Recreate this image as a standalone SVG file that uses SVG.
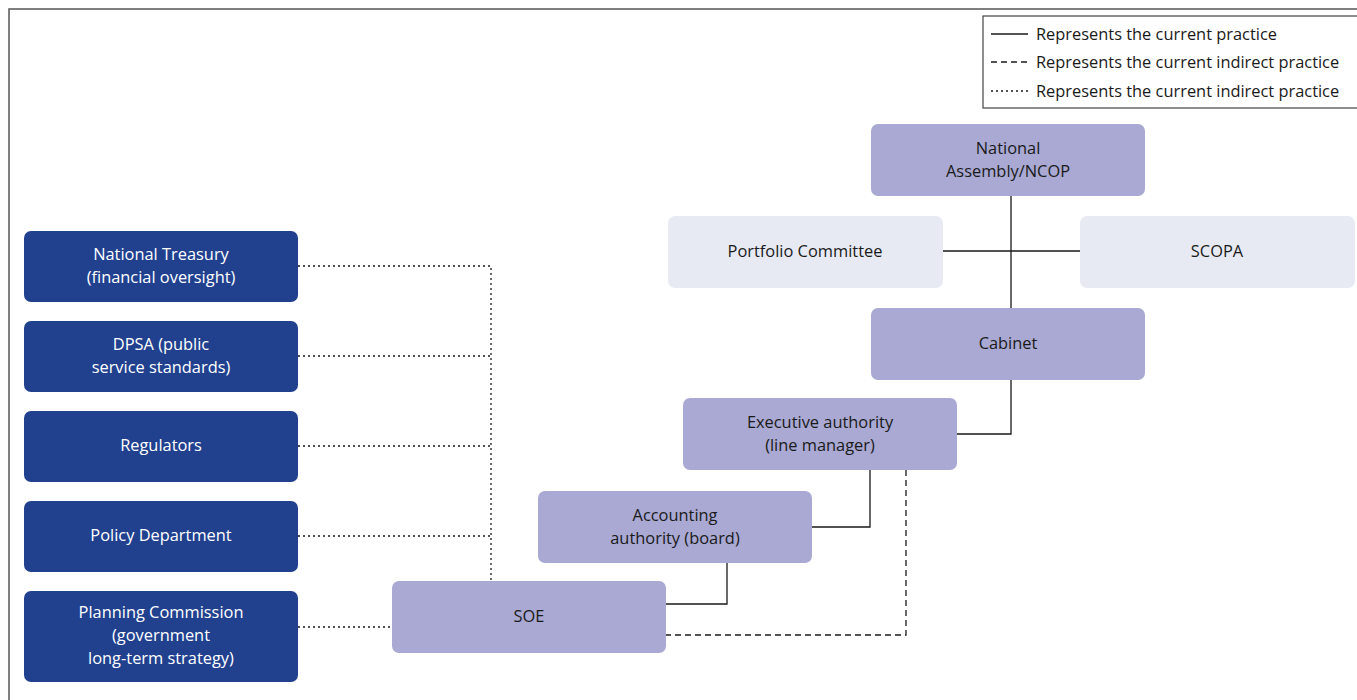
<svg xmlns="http://www.w3.org/2000/svg" width="1357" height="700" viewBox="0 0 1357 700">
<style>
text{font-family:"Open Sans","Noto Sans","Liberation Sans",sans-serif;font-size:16.4px;text-anchor:middle}
.dk rect{fill:#21418f}
.dk text{fill:#ffffff}
.pu rect{fill:#a9a9d3}
.lt rect{fill:#e8eaf3}
.pu text,.lt text,.lg text{fill:#1a1a1a}
.c{fill:none;stroke:#1a1a1a;stroke-width:1.3}
.dash{stroke-dasharray:6 4}
.dot{stroke-dasharray:2 3}
</style>
<rect width="1357" height="700" fill="#fff"/>
<rect x="9" y="9" width="1360" height="700" fill="none" stroke="#555" stroke-width="1.5"/>
<g id="legend" class="lg">
<rect x="983" y="16" width="380" height="92" fill="#fff" stroke="#444" stroke-width="1.2"/>
<line class="c" x1="991" y1="34" x2="1028" y2="34"/>
<line class="c dash" x1="991" y1="62" x2="1028" y2="62"/>
<line class="c dot" x1="991" y1="91" x2="1028" y2="91"/>
<text x="1036" y="40" style="text-anchor:start">Represents the current practice</text>
<text x="1036" y="68" style="text-anchor:start">Represents the current indirect practice</text>
<text x="1036" y="97" style="text-anchor:start">Represents the current indirect practice</text>
</g>
<g id="connectors">
<path class="c" d="M1011 196V308M943 251H1080"/>
<path class="c" d="M1011 380V434H957"/>
<path class="c" d="M870 470V527H812"/>
<path class="c" d="M727 563V604H666"/>
<path class="c dash" d="M906 470V635H666"/>
<path class="c dot" d="M298 266H491V581M298 356H491M298 446H491M298 536H491M298 627H392"/>
</g>
<g id="na" class="pu"><rect x="871" y="124" width="274" height="72" rx="7"/><text x="1008" y="154">National</text><text x="1008" y="177">Assembly/NCOP</text></g>
<g id="pc" class="lt"><rect x="668" y="216" width="275" height="72" rx="7"/><text x="805" y="257">Portfolio Committee</text></g>
<g id="scopa" class="lt"><rect x="1080" y="216" width="275" height="72" rx="7"/><text x="1217" y="257">SCOPA</text></g>
<g id="cabinet" class="pu"><rect x="871" y="308" width="274" height="72" rx="7"/><text x="1008" y="349">Cabinet</text></g>
<g id="exec" class="pu"><rect x="683" y="398" width="274" height="72" rx="7"/><text x="820" y="428">Executive authority</text><text x="820" y="451">(line manager)</text></g>
<g id="acc" class="pu"><rect x="538" y="491" width="274" height="72" rx="7"/><text x="675" y="521">Accounting</text><text x="675" y="544">authority (board)</text></g>
<g id="soe" class="pu"><rect x="392" y="581" width="274" height="72" rx="7"/><text x="529" y="622">SOE</text></g>
<g id="nt" class="dk"><rect x="24" y="231" width="274" height="71" rx="7"/><text x="161" y="260">National Treasury</text><text x="161" y="283">(financial oversight)</text></g>
<g id="dpsa" class="dk"><rect x="24" y="321" width="274" height="71" rx="7"/><text x="161" y="350">DPSA (public</text><text x="161" y="373">service standards)</text></g>
<g id="reg" class="dk"><rect x="24" y="411" width="274" height="71" rx="7"/><text x="161" y="451">Regulators</text></g>
<g id="pd" class="dk"><rect x="24" y="501" width="274" height="71" rx="7"/><text x="161" y="541">Policy Department</text></g>
<g id="plan" class="dk"><rect x="24" y="591" width="274" height="91" rx="7"/><text x="161" y="618">Planning Commission</text><text x="161" y="641">(government</text><text x="161" y="664">long-term strategy)</text></g>
</svg>
